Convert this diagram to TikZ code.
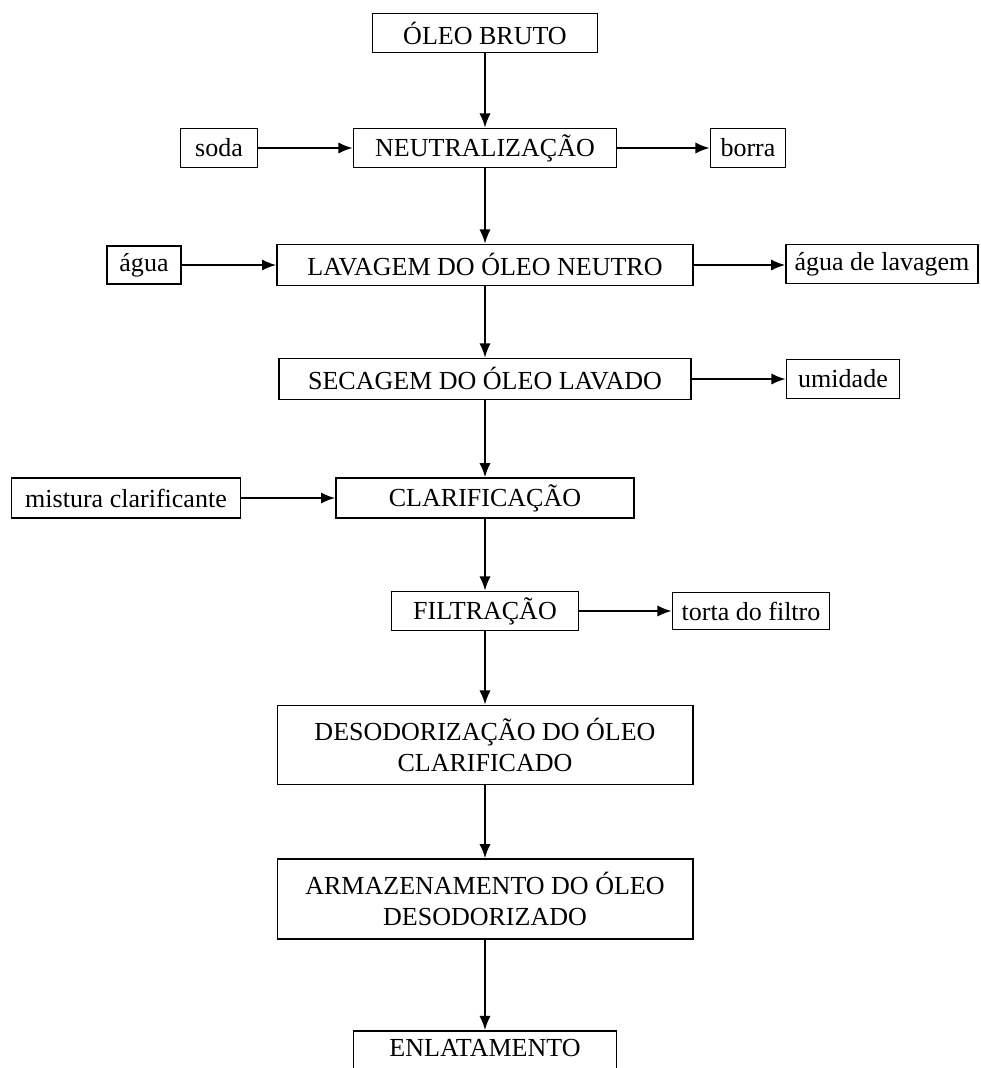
\documentclass[tikz,border=0pt]{standalone}
\usepackage{fontspec}
\setmainfont{Liberation Serif}
\usetikzlibrary{arrows.meta}

\begin{document}
\begin{tikzpicture}[x=0.025cm, y=-0.025cm, every node/.style={font=\fontsize{18.5}{21.5}\selectfont},
        box/.style={draw, line width=1.2pt, inner sep=0pt, align=center},
        flow/.style={line width=1.2pt, -{Latex[length=10pt,width=8pt]}}]
        \clip (0,0) rectangle (981,1068);
        \fill[white] (0,0) rectangle (981,1068);
        \node[box, minimum width=5.63cm, minimum height=0.98cm] (bruto) at (485,33) {ÓLEO BRUTO};
        \node[box, minimum width=6.58cm, minimum height=0.98cm] (neutra) at (485,148) {NEUTRALIZAÇÃO};
        \node[box, minimum width=1.93cm, minimum height=0.98cm] (soda) at (219,148) {soda};
        \node[box, minimum width=1.88cm, minimum height=0.98cm] (borra) at (748,148) {borra};
        \node[box, minimum width=10.4cm, minimum height=1.03cm] (lavagem) at (485,265) {LAVAGEM DO ÓLEO NEUTRO};
        \node[box, minimum width=1.85cm, minimum height=0.95cm] (agua) at (144,265) {água};
        \node[box, minimum width=4.8cm, minimum height=0.98cm] (aguala) at (882,264) {água de lavagem};
        \node[box, minimum width=10.3cm, minimum height=1.03cm] (secagem) at (485,379) {SECAGEM DO ÓLEO LAVADO};
        \node[box, minimum width=2.83cm, minimum height=0.98cm] (umidade) at (843,379) {umidade};
        \node[box, minimum width=7.45cm, minimum height=1cm] (clarif) at (485,498) {CLARIFICAÇÃO};
        \node[box, minimum width=5.73cm, minimum height=1cm] (mistura) at (126,498) {mistura clarificante};
        \node[box, minimum width=4.68cm, minimum height=0.98cm] (filtra) at (485,611) {FILTRAÇÃO};
        \node[box, minimum width=3.93cm, minimum height=0.93cm] (torta) at (751,611) {torta do filtro};
        \node[box, minimum width=10.38cm, minimum height=1.98cm] (desodor) at (485,745) {DESODORIZAÇÃO DO ÓLEO\\CLARIFICADO};
        \node[box, minimum width=10.38cm, minimum height=2cm] (armaz) at (485,899) {ARMAZENAMENTO DO ÓLEO\\DESODORIZADO};
        \node[box, minimum width=6.58cm, text height=0.63cm, text depth=0.63cm, anchor=north] (enlata) at (485,1030) {ENLATAMENTO};
        \foreach \a/\b in {bruto/neutra, neutra/lavagem, lavagem/secagem, secagem/clarif, clarif/filtra, filtra/desodor, desodor/armaz, armaz/enlata}
          \draw[flow] (\a) -- (\b);
        \draw[flow] (soda) -- (neutra);
        \draw[flow] (neutra) -- (borra);
        \draw[flow] (agua) -- (lavagem);
        \draw[flow] (lavagem.east) -- (lavagem.east -| aguala.west);
        \draw[flow] (secagem) -- (umidade);
        \draw[flow] (mistura) -- (clarif);
        \draw[flow] (filtra) -- (torta);
      \end{tikzpicture}
\end{document}
